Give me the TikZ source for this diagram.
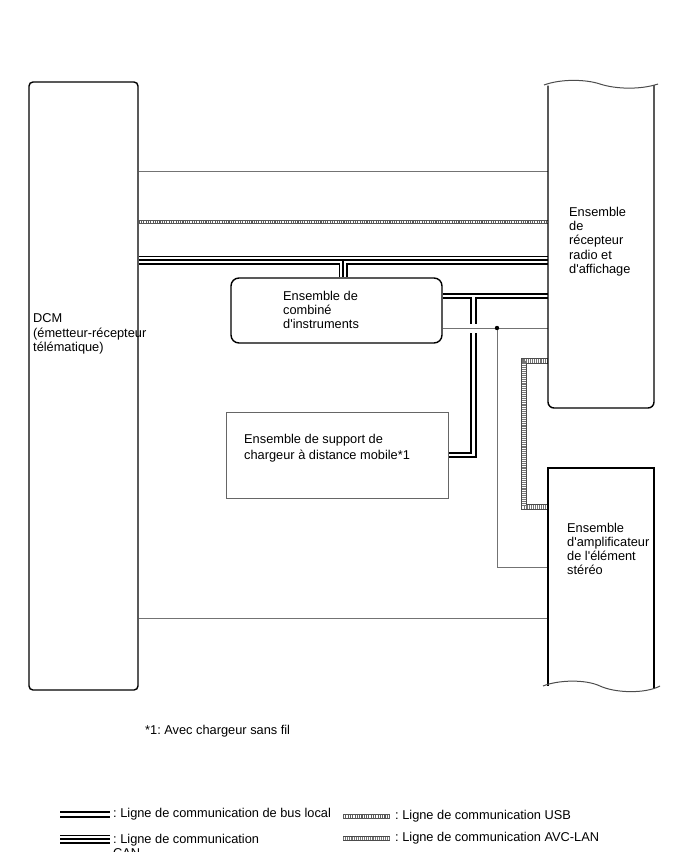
\documentclass[tikz,border=0pt]{standalone}
\usepackage{fontspec}
\setmainfont{Liberation Sans}
\usetikzlibrary{positioning}
\pgfdeclarelayer{bg}
\pgfsetlayers{bg,main}
\newcommand{\ap}{\textquotesingle}
\frenchspacing

\begin{document}
\begin{tikzpicture}[x=1pt,y=-1pt,
  every node/.style={font=\fontsize{12.8}{14.2}\selectfont},
  unitbox/.style={draw, line width=1.4pt, inner sep=0pt},
  lbl/.style={anchor=west, align=left, inner sep=0pt},
  thinline/.style={draw=black!55, line width=0.9pt},
  busline/.style={draw=black, line width=6.2pt, line join=miter,
    postaction={draw=white, line width=2.6pt}},
  canline/.style={draw=black, line width=9pt, line join=miter,
    postaction={draw=white, line width=5.8pt},
    postaction={draw=black, line width=1.3pt}},
  usbline/.style={draw=black!65, line width=4.8pt,
    postaction={draw=white, line width=2.8pt},
    postaction={draw=black!65, line width=2.8pt, dash pattern=on 1.1pt off 1.2pt}},
  avcline/.style={draw=black!70, line width=5.4pt, line join=miter,
    postaction={draw=white, line width=3.2pt},
    postaction={draw=black!55, line width=3.2pt, dash pattern=on 1.1pt off 1pt}},
  wave/.style={draw=black!70, line width=1pt}]
  \useasboundingbox (0,0) rectangle (688,852);

  % units
  \node[unitbox, rounded corners=4pt, minimum width=109pt, minimum height=608pt] (dcm) at (83.5,386) {};
  \node[lbl] (dcmlbl) at (33,334) {DCM\\(émetteur-récepteur\\télématique)};

  \node[unitbox, rounded corners=8pt, minimum width=211pt, minimum height=65pt] (combi) at (336.5,310.5) {};
  \node[lbl] (combilbl) at (283,310) {Ensemble de\\combiné\\d\ap instruments};

  \node[draw=black!60, line width=0.9pt, inner sep=0pt, minimum width=222pt, minimum height=86pt] (charger) at (337,455) {};
  \node[lbl, font=\fontsize{12.8}{16}\selectfont] (chargerlbl) at (244,448) {Ensemble de support de\\chargeur à distance mobile*1};

  \node[inner sep=0pt, minimum width=106pt, minimum height=322pt] (radio) at (601,247) {};
  \draw[line width=1.4pt, rounded corners=6pt] (548,85.5) -- (548,408) -- (654,408) -- (654,85);
  \draw[wave] (544,85) .. controls (560,79) and (585,79) .. (600,84) .. controls (615,89) and (640,90) .. (658,84);
  \node[lbl] (radiolbl) at (569,241.5) {Ensemble\\de\\récepteur\\radio et\\d\ap affichage};

  \node[inner sep=0pt, minimum width=106pt, minimum height=218pt] (amp) at (601,577) {};
  \draw[line width=1.4pt] (548,686) -- (548,468) -- (654,468) -- (654,689);
  \draw[wave] (543,686) .. controls (558,680) and (585,679) .. (600,686) .. controls (615,693) and (645,694) .. (660,686);
  \node[lbl] (amplbl) at (567,549) {Ensemble\\d\ap amplificateur\\de l\ap élément\\stéréo};

  % connectors
  \coordinate (canT) at (343,260);
  \coordinate (busT) at (473.5,296);
  \coordinate (tap) at (497,328);
  \begin{pgfonlayer}{bg}
    \draw[thinline] (dcm.east |- 0,171) -- (radio.west |- 0,171);
    \draw[usbline] (dcm.east |- 0,222) -- (radio.west |- 0,222);
    \draw[canline] (dcm.east |- canT) -- (radio.west |- canT) (canT) -- (canT |- combi.north);
    \draw[busline] (combi.east |- busT) -- (radio.west |- busT) (busT) |- (charger.east);
    \draw[thinline, preaction={draw=white, line width=9pt}] (combi.east |- tap) -- (radio.west |- tap);
    \draw[thinline] (tap) |- (amp.west |- 0,567);
    \draw[avcline] (radio.west |- 0,361) -| (524,434) |- (amp.west |- 0,507);
    \draw[thinline] (dcm.east |- 0,618) -- (amp.west |- 0,618);
  \end{pgfonlayer}
  \fill (tap) circle (2.2pt);

  \node[lbl] (note) at (145,731) {*1: Avec chargeur sans fil};

  % legend
  \coordinate (lgbus) at (60,814.5);
  \coordinate (lgcan) at (60,839);
  \coordinate (lgusb) at (343,816.5);
  \coordinate (lgavc) at (343,838.5);
  \draw[busline] (lgbus) -- ++(50,0) coordinate (lgbusE);
  \draw[canline] (lgcan) -- ++(50,0) coordinate (lgcanE);
  \draw[usbline] (lgusb) -- ++(47,0) coordinate (lgusbE);
  \draw[avcline] (lgavc) -- ++(47,0) coordinate (lgavcE);
  \node[lbl, right=3pt of lgbusE] (lgbuslbl) {: Ligne de communication de bus local};
  \node[lbl, anchor=north west] (lgcanlbl) at (113,834) {: Ligne de communication\\CAN};
  \node[lbl, right=5pt of lgusbE] (lgusblbl) {: Ligne de communication USB};
  \node[lbl, right=5pt of lgavcE] (lgavclbl) {: Ligne de communication AVC-LAN};
\end{tikzpicture}
\end{document}
